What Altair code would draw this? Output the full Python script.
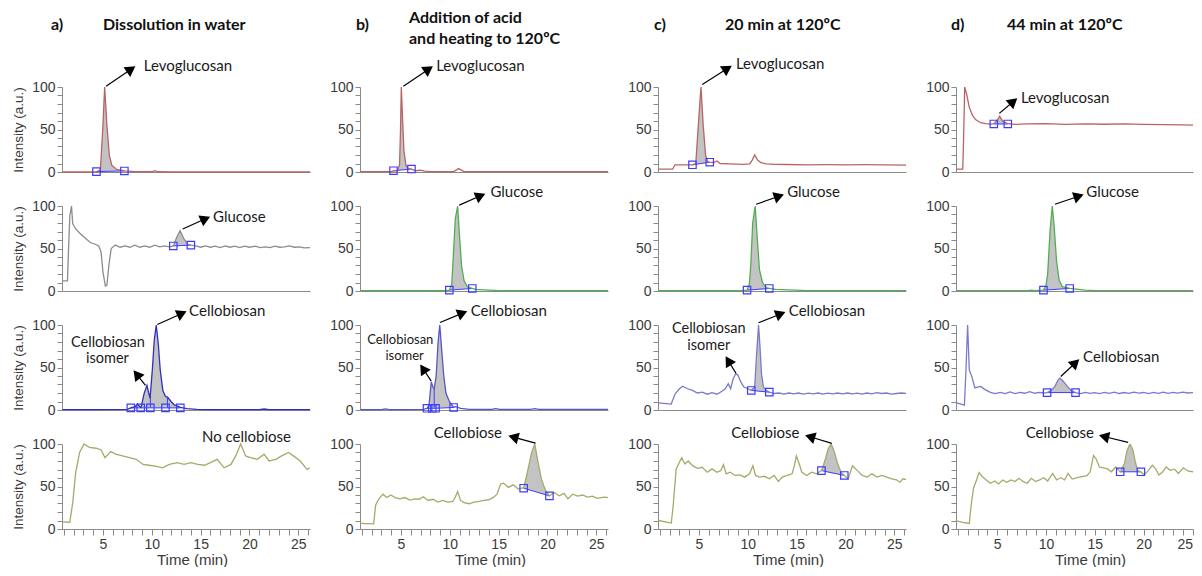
import math
import numpy as np
import pandas as pd
import altair as alt

# ---------------- data: (time [min], intensity [a.u.]) ----------------
# a) Dissolution in water
A_LEVO = [(0.84, 0), (2.0, 0), (3.0, 0), (4.0, 0.2), (4.33, 0.5), (4.73, 2), (4.97, 50), (5.17, 100),
          (5.4, 55), (5.64, 20), (5.9, 8), (6.4, 3), (7.1, 1.5), (7.19, 1.2), (8.3, 0.5), (10.0, 0.3),
          (10.3, 1.5), (10.6, 0.3), (12.0, 0), (26.2, 0)]
A_LEVO_SQ = [(4.33, 0.5), (7.19, 1.2)]
A_GLUC = [(0.84, 12), (1.36, 12), (1.46, 46), (1.6, 88), (1.77, 100), (1.9, 79), (2.2, 73), (2.7, 67),
          (3.2, 62), (3.7, 57), (4.2, 55), (4.56, 53), (4.8, 46), (5.0, 22), (5.24, 6), (5.4, 7), (5.6, 30),
          (5.84, 50), (6.25, 54), (6.75, 51.5), (7.25, 53), (7.76, 51.5), (8.27, 54), (8.77, 51.5),
          (9.28, 53), (9.78, 51.5), (10.3, 54), (10.8, 52), (11.3, 53), (11.8, 52), (12.2, 53),
          (12.54, 63), (12.9, 71), (13.3, 61), (13.7, 55), (14.0, 54), (14.5, 53), (15.0, 51.5),
          (15.5, 53), (16.0, 51.5), (16.5, 52.7), (17.0, 51), (17.5, 53), (18.0, 51.5), (18.5, 52.7),
          (19.0, 51), (19.5, 52.7), (20.0, 51.5), (20.6, 52.7), (21.1, 51), (21.6, 52), (22.1, 51),
          (22.6, 52.7), (23.1, 51.5), (23.6, 52), (24.1, 53), (24.6, 51.5), (25.1, 52), (25.6, 50.8),
          (26.2, 51)]
A_GLUC_SQ = [(12.2, 53), (14.0, 54)]
A_CBAN = [(0.84, 0.5), (4.0, 0.5), (7.5, 0.8), (7.85, 2.5), (8.27, 4), (8.54, 7), (8.77, 4), (8.9, 3),
          (9.2, 19), (9.5, 29), (9.68, 20), (9.82, 14), (10.05, 47), (10.25, 82), (10.45, 100),
          (10.66, 78), (10.86, 47), (11.13, 23), (11.4, 16), (11.63, 15), (11.97, 10), (12.3, 6),
          (12.92, 3), (13.6, 1.5), (14.6, 0.8), (16.0, 0.5), (21.0, 0.5), (21.5, 1.2), (22.0, 0.5),
          (26.2, 0.5)]
A_CBAN_SQ = [(7.85, 2.5), (8.86, 2.5), (9.85, 2.5), (11.4, 2.5), (12.92, 2.5)]
A_CBAN_SPLIT = [(9.85, 16), (11.6, 15)]
A_CBOSE = [(0.84, 8.5), (1.6, 8), (1.9, 31), (2.2, 66), (2.6, 90), (3.05, 100), (3.6, 96), (4.3, 95),
           (4.8, 93), (5.2, 84), (5.8, 91), (6.3, 88), (7.0, 86), (7.7, 84), (8.4, 82), (9.1, 76),
           (9.7, 75), (10.4, 74), (11.1, 72), (11.8, 76), (12.6, 78), (13.3, 76), (14.0, 78),
           (14.7, 76), (15.4, 75), (16.0, 78), (16.7, 82), (17.4, 72), (18.1, 76), (18.6, 86),
           (19.1, 100), (19.6, 86), (20.1, 84), (20.8, 82), (21.5, 88), (22.0, 80), (22.7, 82),
           (23.3, 86), (24.0, 90), (24.5, 86), (25.2, 80), (25.9, 70), (26.2, 72)]

# b) Addition of acid and heating to 120 ºC
B_LEVO = [(0.84, 0.5), (4.0, 0.5), (4.23, 1.5), (4.6, 1.5), (4.85, 8), (4.95, 50), (5.03, 100),
          (5.17, 60), (5.3, 25), (5.5, 8), (5.74, 4), (6.07, 3.5), (6.5, 1.5), (7.0, 2.2), (7.4, 1),
          (8.0, 0.5), (10.4, 0.5), (10.9, 4), (11.4, 0.8), (12.0, 0.5), (26.2, 0.5)]
B_LEVO_SQ = [(4.23, 1.5), (6.07, 3.5)]
B_GLUC = [(0.84, 0.5), (9.5, 0.5), (9.95, 1), (10.2, 8), (10.35, 40), (10.56, 85), (10.8, 100),
          (10.96, 70), (11.2, 30), (11.46, 12), (11.8, 5), (12.3, 3), (12.64, 2), (14.0, 1),
          (15.0, 0.5), (26.2, 0.5)]
B_GLUC_SQ = [(9.95, 1), (12.3, 3)]
B_CBAN = [(0.84, 0.5), (3.0, 0.5), (3.4, 1.2), (3.8, 0.5), (7.3, 0.8), (7.66, 2), (7.86, 5), (8.1, 33),
          (8.27, 27), (8.4, 25), (8.6, 40), (8.8, 80), (8.97, 100), (9.17, 70), (9.38, 40), (9.6, 20),
          (9.95, 10), (10.39, 3), (10.6, 4), (11.1, 2), (12.0, 0.8), (14.3, 0.8), (14.7, 1.5),
          (15.1, 0.8), (18.3, 0.8), (18.7, 1.5), (19.1, 0.8), (26.2, 0.8)]
B_CBAN_SQ = [(7.66, 2), (8.2, 2), (8.54, 2), (10.39, 3)]
B_CBAN_SPLIT = [(8.4, 25)]
B_CBOSE = [(0.84, 6.5), (2.2, 6), (2.4, 28), (2.7, 35), (3.15, 41), (3.55, 37), (3.96, 40), (4.4, 37),
           (4.9, 35.5), (5.4, 37), (5.9, 34), (6.4, 35.5), (6.85, 35), (7.3, 38), (7.76, 33.6),
           (8.27, 35), (8.77, 31.7), (9.28, 33.6), (9.78, 31.7), (10.3, 32.4), (10.56, 37.5),
           (10.8, 44), (11.1, 33.6), (11.46, 31), (11.97, 29.7), (12.47, 31.7), (12.98, 32.4),
           (13.5, 33.6), (14.0, 34.4), (14.5, 37.5), (14.83, 41), (15.2, 53), (15.5, 54), (16.0, 49),
           (16.5, 52), (17.0, 47), (17.56, 48.6), (17.93, 66), (18.37, 89.6), (18.7, 100),
           (19.04, 78), (19.38, 58.7), (19.78, 46), (20.2, 39), (20.7, 43), (21.2, 39), (21.7, 42),
           (22.1, 35.5), (22.6, 41), (23.1, 38.6), (23.6, 40), (24.1, 37.5), (24.6, 38.6), (25.1, 36),
           (25.8, 37.5), (26.2, 37)]
B_CBOSE_SQ = [(17.56, 48), (20.2, 39)]

# c) 20 min at 120 ºC
C_LEVO = [(0.84, 3.5), (2.3, 3.5), (2.55, 8.5), (3.5, 8.5), (4.33, 8.5), (4.67, 10), (4.9, 50),
          (5.2, 100), (5.43, 55), (5.67, 20), (5.9, 12), (6.1, 11.5), (6.5, 11), (6.84, 13), (7.17, 10),
          (8.18, 9.5), (9.5, 9), (10.2, 9.5), (10.45, 14), (10.7, 20), (11.0, 14), (11.35, 11),
          (11.86, 9.5), (12.86, 9), (14.0, 8.8), (16.0, 8.5), (18.0, 8.7), (20.0, 8.4), (22.0, 8.6),
          (24.0, 8.3), (26.2, 8.2)]
C_LEVO_SQ = [(4.33, 8.5), (6.1, 11.5)]
C_GLUC = [(0.84, 0.5), (9.5, 0.5), (9.92, 1), (10.15, 8), (10.3, 30), (10.5, 80), (10.75, 100),
          (10.95, 65), (11.19, 25), (11.5, 10), (11.86, 4), (12.2, 3), (12.86, 2), (14.87, 1),
          (16.0, 0.5), (26.2, 0.5)]
C_GLUC_SQ = [(9.92, 1), (12.2, 3)]
C_CBAN = [(0.84, 8.5), (2.16, 7), (2.3, 11.6), (2.56, 19), (3.0, 25), (3.33, 28), (3.83, 25),
          (4.33, 23), (4.83, 20), (5.33, 21), (5.84, 18.6), (6.34, 20.5), (6.84, 18.6), (7.34, 22),
          (7.68, 25), (8.0, 31), (8.24, 25), (8.5, 36.8), (8.78, 43), (9.0, 40.7), (9.28, 33),
          (9.6, 27), (10.0, 25), (10.35, 23), (10.7, 27), (10.9, 66), (11.1, 100), (11.25, 73.6),
          (11.4, 42.6), (11.6, 27), (11.9, 23), (12.2, 21), (12.7, 19.4), (13.2, 20), (13.7, 18.6),
          (14.2, 20), (14.7, 19), (15.2, 20), (15.7, 18.6), (16.2, 19.8), (16.7, 19), (17.2, 20),
          (17.7, 18.6), (18.2, 19.8), (18.7, 19), (19.2, 20), (19.7, 19), (20.2, 20), (20.7, 19),
          (21.2, 19.8), (21.7, 18.6), (22.2, 20), (22.7, 19), (23.2, 20.5), (23.7, 19.4), (24.2, 20),
          (24.7, 18.6), (25.2, 19.4), (25.7, 20), (26.2, 19.5)]
C_CBAN_SQ = [(10.35, 23), (12.2, 21)]
C_CBOSE = [(0.84, 10), (2.16, 7), (2.36, 28), (2.66, 70.7), (3.23, 84), (3.56, 76.4), (3.9, 80),
           (4.33, 74.5), (4.83, 71.4), (5.33, 72.6), (5.84, 66.8), (6.34, 70.7), (6.84, 66.8),
           (7.24, 68.7), (7.5, 75.7), (7.78, 64.9), (8.18, 66.8), (8.68, 63), (9.18, 63.7), (9.68, 61),
           (10.18, 64.9), (10.52, 74.5), (10.79, 63), (11.19, 61), (11.69, 62), (12.2, 59),
           (12.69, 63), (13.13, 56), (13.53, 61), (14.03, 63), (14.53, 64.9), (14.77, 74.5),
           (14.97, 86), (15.27, 76.4), (15.53, 66.8), (16.04, 63), (16.54, 66.8), (17.04, 64.9),
           (17.54, 68.7), (17.94, 82), (18.21, 93.8), (18.54, 100), (18.88, 90), (19.21, 76.4),
           (19.55, 66.8), (19.88, 63), (20.28, 59), (20.72, 74.5), (21.22, 68.7), (21.72, 63),
           (22.22, 61), (22.72, 64.9), (23.23, 61), (23.73, 63), (24.23, 61), (24.73, 59),
           (25.23, 57.9), (25.57, 55), (25.9, 59), (26.2, 58)]
C_CBOSE_SQ = [(17.54, 68.7), (19.88, 63)]

# d) 44 min at 120 ºC
D_LEVO = [(0.84, 3.5), (1.49, 3.5), (1.59, 45), (1.69, 100), (1.89, 91.5), (2.16, 76), (2.5, 66.4),
          (2.83, 61.4), (3.33, 58), (3.83, 56.8), (4.33, 56.4), (4.67, 56.8), (5.0, 60.6), (5.27, 65.6),
          (5.57, 59.8), (6.1, 56.8), (6.84, 56), (8.0, 56.5), (10.0, 56.8), (12.0, 56), (14.0, 56.6),
          (16.0, 56.2), (18.0, 56.5), (20.0, 56), (22.0, 55.8), (24.0, 55.5), (26.2, 55)]
D_LEVO_SQ = [(4.67, 56.5), (6.1, 56.5)]
D_GLUC = [(0.84, 0.5), (8.2, 0.5), (8.5, 1), (8.8, 0.5), (9.75, 1), (10.0, 6), (10.18, 20),
          (10.42, 70), (10.65, 100), (10.85, 75), (11.09, 35), (11.35, 13), (11.69, 5), (12.43, 3),
          (14.0, 1), (15.0, 0.5), (26.2, 0.5)]
D_GLUC_SQ = [(9.75, 1), (12.43, 3)]
D_CBAN = [(0.84, 8.5), (1.32, 7), (1.66, 5.8), (1.82, 47), (1.99, 100), (2.16, 47), (2.43, 39),
          (2.73, 26), (3.0, 27), (3.33, 27.8), (3.76, 24), (4.33, 20.8), (4.83, 19.3), (5.33, 20.8),
          (5.84, 19.3), (6.34, 21.2), (6.84, 19.3), (7.34, 20.8), (7.84, 19.7), (8.34, 21.6),
          (8.85, 19.7), (9.35, 20.8), (9.78, 20), (10.12, 20.5), (10.52, 23), (10.92, 27.8),
          (11.25, 35.5), (11.45, 37.5), (11.79, 33.6), (12.19, 27.8), (12.6, 23), (13.03, 20.5),
          (13.53, 19.3), (14.03, 20.8), (14.5, 19.5), (15.0, 20.5), (15.5, 19.2), (16.0, 20.8),
          (16.5, 19.6), (17.0, 21), (17.5, 19.4), (18.0, 20.6), (18.5, 19.5), (19.0, 21), (19.5, 19.8),
          (20.0, 20.6), (20.5, 19.3), (21.0, 20.8), (21.5, 19.6), (22.0, 21), (22.5, 19.5),
          (23.0, 20.7), (23.5, 19.8), (24.0, 21), (24.5, 20), (25.0, 20.5), (25.5, 20)]
D_CBAN_SQ = [(10.12, 20.5), (13.03, 20.5)]
D_CBOSE = [(0.84, 9.6), (1.49, 7.7), (2.16, 6.5), (2.36, 28.8), (2.59, 48), (2.9, 57.7), (3.16, 66.5),
           (3.5, 61.5), (3.9, 57.7), (4.33, 53.8), (4.77, 56.5), (5.17, 53), (5.57, 57.7), (6.0, 55),
           (6.44, 57.7), (6.84, 55.8), (7.24, 59.6), (7.68, 55.8), (8.1, 53.8), (8.5, 59.6),
           (8.95, 55.8), (9.35, 57.7), (9.78, 60.4), (10.18, 56.5), (10.69, 65.4), (11.09, 57.7),
           (11.52, 60.4), (11.92, 57.7), (12.26, 65.4), (12.69, 58.8), (13.19, 60.4), (13.7, 61.5),
           (14.2, 62.7), (14.53, 67.3), (14.87, 86.5), (15.13, 82.7), (15.47, 73), (15.87, 72),
           (16.27, 71), (16.7, 67.3), (17.14, 73), (17.6, 67.3), (18.04, 77), (18.3, 92.3),
           (18.6, 100), (18.88, 94), (19.15, 78.8), (19.38, 69), (19.72, 67.3), (20.05, 63.5),
           (20.49, 69), (20.89, 75), (21.22, 71), (21.55, 63.5), (21.96, 67.3), (22.3, 73),
           (22.73, 69), (23.16, 70.4), (23.56, 65.4), (24.06, 72), (24.56, 68), (25.07, 67.3),
           (25.57, 68)]
D_CBOSE_SQ = [(17.6, 67.3), (19.72, 67.3)]

# ---------------- styles ----------------
RED = "#b86464"
GRAY_TRACE = "#8c8c8c"
GREEN = "#52ad52"
BLUE_A = "#3030b8"
BLUE_B = "#5656c4"
BLUE_CD = "#7a7acc"
OLIVE = "#a8a86a"
SQ_COLOR = "#3c3cff"
FILL = "#c3c3c3"
AXIS_GRAY = "#8a8a8a"
LABEL_COLOR = "#3a3a3a"
AXIS_FONT = "Arial"
ANN_FONT = "Lato"

PANELS = {
    (0, 0): dict(trace=A_LEVO, sq=A_LEVO_SQ, color=RED),
    (0, 1): dict(trace=A_GLUC, sq=A_GLUC_SQ, color=GRAY_TRACE),
    (0, 2): dict(trace=A_CBAN, sq=A_CBAN_SQ, color=BLUE_A, split=A_CBAN_SPLIT),
    (0, 3): dict(trace=A_CBOSE, sq=None, color=OLIVE),
    (1, 0): dict(trace=B_LEVO, sq=B_LEVO_SQ, color=RED),
    (1, 1): dict(trace=B_GLUC, sq=B_GLUC_SQ, color=GREEN),
    (1, 2): dict(trace=B_CBAN, sq=B_CBAN_SQ, color=BLUE_B, split=B_CBAN_SPLIT),
    (1, 3): dict(trace=B_CBOSE, sq=B_CBOSE_SQ, color=OLIVE),
    (2, 0): dict(trace=C_LEVO, sq=C_LEVO_SQ, color=RED),
    (2, 1): dict(trace=C_GLUC, sq=C_GLUC_SQ, color=GREEN),
    (2, 2): dict(trace=C_CBAN, sq=C_CBAN_SQ, color=BLUE_CD),
    (2, 3): dict(trace=C_CBOSE, sq=C_CBOSE_SQ, color=OLIVE),
    (3, 0): dict(trace=D_LEVO, sq=D_LEVO_SQ, color=RED),
    (3, 1): dict(trace=D_GLUC, sq=D_GLUC_SQ, color=GREEN),
    (3, 2): dict(trace=D_CBAN, sq=D_CBAN_SQ, color=BLUE_CD),
    (3, 3): dict(trace=D_CBOSE, sq=D_CBOSE_SQ, color=OLIVE),
}

# annotation layout (data coordinates): arrow (start t, start v, head t, head v)
ARROWS = {
    (0, 0): [(5.31, 101, 7.88, 121)],
    (0, 1): [(13.16, 73, 15.49, 85)],
    (0, 2): [(10.56, 100.5, 13.08, 113.6), (9.35, 29, 8.45, 42)],
    (1, 0): [(5.24, 101, 7.83, 121)],
    (1, 1): [(10.96, 101, 13.15, 112)],
    (1, 2): [(9.0, 103, 11.3, 114), (8.1, 34, 7.26, 48.5)],
    (1, 3): [(18.77, 101, 16.5, 108)],
    (2, 0): [(5.33, 103, 7.91, 121.7)],
    (2, 1): [(10.85, 102, 13.2, 111.5)],
    (2, 2): [(11.09, 102.7, 13.36, 113), (8.78, 43.4, 8.0, 58)],
    (2, 3): [(18.6, 100.8, 16.37, 108.5)],
    (3, 0): [(5.23, 69, 6.67, 83)],
    (3, 1): [(10.92, 102, 13.36, 111.5)],
    (3, 2): [(11.52, 39.4, 13.03, 55.6)],
    (3, 3): [(18.41, 102, 15.94, 108.8)],
}
LABELS = {
    (0, 0): [("Levoglucosan", 9.17, 125, "left", 15)],
    (0, 1): [("Glucose", 16.27, 86.9, "left", 15)],
    (0, 2): [("Cellobiosan", 13.82, 116, "left", 15), ("Cellobiosan", 5.5, 78.5, "center", 14.5),
             ("isomer", 5.45, 59.5, "center", 14.5)],
    (0, 3): [("No cellobiose", 19.7, 108, "center", 15)],
    (1, 0): [("Levoglucosan", 8.6, 125, "left", 15)],
    (1, 1): [("Glucose", 14.16, 116, "left", 15)],
    (1, 2): [("Cellobiosan", 12.14, 116.7, "left", 15), ("Cellobiosan", 4.93, 82.5, "center", 13),
             ("isomer", 5.37, 63.0, "center", 13)],
    (1, 3): [("Cellobiose", 11.84, 112.7, "center", 15)],
    (2, 0): [("Levoglucosan", 8.78, 127, "left", 15)],
    (2, 1): [("Glucose", 14.03, 116, "left", 15)],
    (2, 2): [("Cellobiosan", 14.2, 116.3, "left", 15), ("Cellobiosan", 6.0, 94.8, "center", 14.5),
             ("isomer", 6.0, 75.5, "center", 14.5)],
    (2, 3): [("Cellobiose", 11.79, 113, "center", 15)],
    (3, 0): [("Levoglucosan", 7.44, 87.6, "left", 15)],
    (3, 1): [("Glucose", 14.13, 116, "left", 15)],
    (3, 2): [("Cellobiosan", 13.8, 61.8, "left", 15)],
    (3, 3): [("Cellobiose", 11.42, 113.5, "center", 15)],
}
# column headers: (text, x px, y px relative to the top-left of the first-row plot)
TITLES = {
    0: [("a)", -11, -57), ("Dissolution in water", 41, -57)],
    1: [("b)", -4, -57), ("Addition of acid", 49, -64), ("and heating to 120ºC", 49, -43)],
    2: [("c)", -4, -57), ("20 min at 120ºC", 67, -57)],
    3: [("d)", -5, -57), ("44 min at 120ºC", 51, -57)],
}

X_MIN, X_MAX, X_MAX_D = 0.8, 26.2, 25.05
PX_PER_MIN = 9.76
PANEL_H = 85
PX_PER_UNIT = PANEL_H / 100.0


def peak_area(pts, sq):
    t0, b0 = sq[0]
    t1, b1 = sq[-1]
    ts = np.array([p[0] for p in pts], dtype=float)
    vs = np.array([p[1] for p in pts], dtype=float)
    rows = [(t0, float(np.interp(t0, ts, vs)))]
    rows += [(t, v) for t, v in pts if t0 < t < t1]
    rows += [(t1, float(np.interp(t1, ts, vs)))]
    df = pd.DataFrame(rows, columns=["t", "v"])
    df["base"] = b0 + (b1 - b0) * (df["t"] - t0) / (t1 - t0)
    return df


def build_panel(col, row):
    key = (col, row)
    p = PANELS[key]
    xmax = X_MAX_D if col == 3 else X_MAX
    width = round((xmax - X_MIN) * PX_PER_MIN)
    xscale = alt.Scale(domain=[X_MIN, xmax], nice=False, zero=False)
    yscale = alt.Scale(domain=[0, 100], nice=False, zero=False)
    if row == 3:
        xaxis = alt.Axis(values=list(range(1, int(xmax) + 1)),
                         labelExpr="datum.value % 5 === 0 ? datum.label : ''",
                         labelOverlap=False, tickSize=6, tickColor=AXIS_GRAY, domainColor=AXIS_GRAY,
                         labelColor=LABEL_COLOR, labelFont=AXIS_FONT, labelFontSize=14, labelPadding=2,
                         title="Time (min)", titleFont=AXIS_FONT, titleFontSize=15,
                         titleFontWeight="normal", titleColor=LABEL_COLOR, titlePadding=1,
                         titleX=134 if col == 3 else 130, grid=False)
    else:
        xaxis = alt.Axis(labels=False, ticks=False, title=None, domainColor=AXIS_GRAY, grid=False)
    ykw = dict(values=list(range(0, 101, 10)),
               labelExpr="datum.value % 50 === 0 ? datum.label : ''",
               labelOverlap=False, tickSize=5, tickColor=AXIS_GRAY, domainColor=AXIS_GRAY,
               labelColor=LABEL_COLOR, labelFont=AXIS_FONT, labelFontSize=14, labelPadding=2,
               grid=False)
    if col == 0:
        yaxis = alt.Axis(title="Intensity (a.u.)", titleFont=AXIS_FONT, titleFontSize=13.5,
                         titleFontWeight="normal", titleColor=LABEL_COLOR, titlePadding=6, **ykw)
    else:
        yaxis = alt.Axis(title=None, **ykw)

    def X(f):
        return alt.X(f"{f}:Q", scale=xscale, axis=xaxis)

    def Y(f):
        return alt.Y(f"{f}:Q", scale=yscale, axis=yaxis)

    clip = col == 3
    trace = pd.DataFrame(p["trace"], columns=["t", "v"])
    layers = []
    if p["sq"]:
        layers.append(alt.Chart(peak_area(p["trace"], p["sq"])).mark_area(
            color=FILL, opacity=1, clip=clip).encode(x=X("t"), y=Y("v"), y2=alt.Y2("base")))
    if p.get("split"):
        sp = pd.DataFrame([(t, 2.5, top) for t, top in p["split"]], columns=["t", "b", "top"])
        layers.append(alt.Chart(sp).mark_rule(color=SQ_COLOR, strokeWidth=1).encode(
            x=X("t"), y=Y("b"), y2=alt.Y2("top")))
    if p["sq"]:
        sq = pd.DataFrame(p["sq"], columns=["t", "v"])
        layers.append(alt.Chart(sq).mark_line(color=SQ_COLOR, strokeWidth=1).encode(x=X("t"), y=Y("v")))
    layers.append(alt.Chart(trace).mark_line(color=p["color"], strokeWidth=1.3, clip=clip).encode(
        x=X("t"), y=Y("v")))
    if p["sq"]:
        layers.append(alt.Chart(sq).mark_point(shape="square", filled=False, color=SQ_COLOR, size=55,
                                               strokeWidth=1.2, opacity=1).encode(x=X("t"), y=Y("v")))
    if key in ARROWS:
        rows = []
        for t0, v0, t1, v1 in ARROWS[key]:
            dx = (t1 - t0) * PX_PER_MIN
            dy = -(v1 - v0) * PX_PER_UNIT
            ang = math.degrees(math.atan2(dx, -dy)) % 360
            rows.append((t0, v0, t1, v1, ang))
        ar = pd.DataFrame(rows, columns=["t", "v", "t2", "v2", "ang"])
        layers.append(alt.Chart(ar).mark_rule(color="black", strokeWidth=1.2).encode(
            x=X("t"), y=Y("v"), x2=alt.X2("t2"), y2=alt.Y2("v2")))
        layers.append(alt.Chart(ar).mark_point(shape="triangle-up", filled=True, color="black",
                                               size=140, opacity=1).encode(
            x=X("t2"), y=Y("v2"), angle=alt.Angle("ang:Q", scale=None)))
    for align in ("left", "center"):
        lab = [(s, t, v, fs) for s, t, v, a, fs in LABELS.get(key, []) if a == align]
        if lab:
            ld = pd.DataFrame(lab, columns=["label", "t", "v", "fs"])
            layers.append(alt.Chart(ld).mark_text(font=ANN_FONT, align=align, baseline="middle",
                                                  color="#1a1a1a").encode(
                x=X("t"), y=Y("v"), text="label:N", size=alt.Size("fs:Q", scale=None)))
    if row == 0:
        dummy = pd.DataFrame({"d": [0]})
        for txt, px, py in TITLES[col]:
            layers.append(alt.Chart(dummy).mark_text(
                text=txt, font=ANN_FONT, fontWeight="bold", fontSize=16, align="left",
                baseline="alphabetic", color="#111111").encode(x=alt.value(px), y=alt.value(py)))
    return alt.layer(*layers).properties(width=width, height=PANEL_H)


panels = [build_panel(c, r) for r in range(4) for c in range(4)]
chart = alt.concat(*panels, columns=4, spacing={"row": 34, "column": 50}, bounds="flush").properties(
    padding={"left": 3, "top": 2, "right": 0, "bottom": 0}, background="white"
).configure_view(stroke=None)

chart.save("out.html", embed_options={"renderer": "svg", "actions": False})
